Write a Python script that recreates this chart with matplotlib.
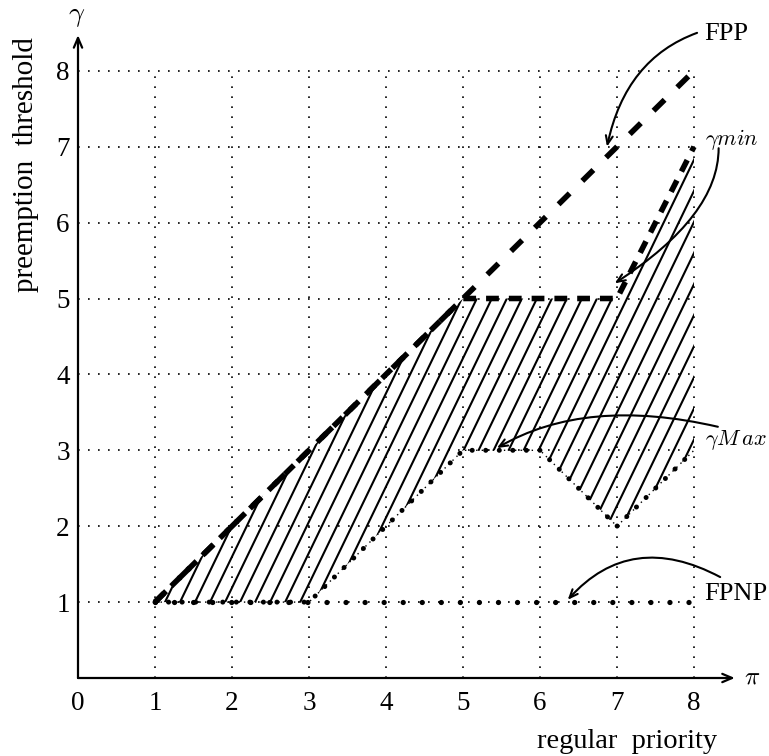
import numpy as np
import matplotlib
matplotlib.use("Agg")
import matplotlib.pyplot as plt
from matplotlib.patches import Polygon

plt.rcParams['font.family'] = ['Liberation Serif', 'DejaVu Serif']
plt.rcParams['mathtext.fontset'] = 'cm'

# curves (regular priority pi -> preemption threshold gamma)
pi_fpp = [1, 8]
gamma_fpp = [1, 8]
pi_min = [1, 5, 7, 8]
gamma_min = [1, 5, 5, 7]
pi_max = [1, 3, 5, 6, 7, 8]
gamma_max = [1, 1, 3, 3, 2, 3]
pi_fpnp = [1, 8]
gamma_fpnp = [1, 1]

x_ticks = [0, 1, 2, 3, 4, 5, 6, 7, 8]
y_ticks = [1, 2, 3, 4, 5, 6, 7, 8]

fig = plt.figure(figsize=(7.69, 7.56), dpi=100)
ax = fig.add_axes([78 / 769, 78 / 756, 8.9 * 77 / 769, 8.9 * 75.9 / 756])
ax.set_xlim(0, 8.9)
ax.set_ylim(0, 8.9)
for s in ax.spines.values():
    s.set_visible(False)
ax.set_xticks(x_ticks)
ax.set_yticks(y_ticks)
ax.tick_params(length=0, labelsize=19.5)
ax.tick_params(axis='x', pad=9)
ax.tick_params(axis='y', pad=6)

# dotted grid
ax.vlines(x_ticks[1:], 0, 8, colors='black', lw=1.2, linestyles=(0, (1, 5)))
ax.hlines(y_ticks, 0, 8, colors='black', lw=1.2, linestyles=(0, (1, 5)))

# axes with arrows
arr = dict(arrowstyle='->,head_length=0.7,head_width=0.3', lw=1.6, color='black',
           shrinkA=0, shrinkB=0)
ax.annotate('', xy=(8.53, 0), xytext=(0, 0), arrowprops=arr, annotation_clip=False)
ax.annotate('', xy=(0, 8.47), xytext=(0, 0), arrowprops=arr, annotation_clip=False)

# hatched region between gamma_max and gamma_min
verts = list(zip(pi_max, gamma_max)) + list(zip(pi_min, gamma_min))[::-1]
region = Polygon(verts, closed=True, facecolor='none', edgecolor='none')
ax.add_patch(region)
slope = 2.1
step = 0.195
for xa in np.arange(1.13 - 8 * step * 5, 8.2, step):
    # line through (xa, 1) with the hatch slope
    ys = np.array([0.0, 9.0])
    xs = xa + (ys - 1) / slope
    ln, = ax.plot(xs, ys, color='black', lw=1.5)
    ln.set_clip_path(region)

# curves
ax.plot(pi_fpnp, gamma_fpnp, color='black', lw=3.8, linestyle=(0, (0.01, 3.6)),
        dash_capstyle='round')
ax.plot(pi_max, gamma_max, color='black', lw=1, linestyle=(0, (1, 3)))
ax.plot(pi_max, gamma_max, color='black', lw=3.6, linestyle=(0, (0.01, 2.7)),
        dash_capstyle='round')
ax.plot(pi_min, gamma_min, color='black', lw=4, linestyle=(0, (2.3, 1.8)))
ax.plot(pi_fpp, gamma_fpp, color='black', lw=4, linestyle=(0, (2.8, 3.2)))

# labels
ax.text(-0.02, 8.72, r'$\gamma$', fontsize=20, ha='center', va='center')
ax.text(8.75, 0.0, r'$\pi$', fontsize=18, ha='center', va='center')
ax.text(7.13, -0.84, 'regular  priority', fontsize=20.5, ha='center', va='center')
ax.text(-0.68, 6.76, 'preemption  threshold', fontsize=21, ha='center', va='center',
        rotation=90)

# annotations
ann = dict(arrowstyle='->,head_length=0.6,head_width=0.25', lw=1.5, color='black',
           shrinkA=0, shrinkB=0)
ax.annotate('', xy=(6.87, 7.0), xytext=(8.04, 8.50),
            arrowprops=dict(ann, connectionstyle='angle3,angleA=20,angleB=78'),
            annotation_clip=False)
ax.text(8.13, 8.48, 'FPP', fontsize=19, ha='left', va='center')

ax.annotate('', xy=(6.97, 5.20), xytext=(8.32, 6.98),
            arrowprops=dict(ann, connectionstyle='angle3,angleA=90,angleB=33'),
            annotation_clip=False)
ax.text(8.14, 7.09, r'$\gamma min$', fontsize=16, ha='left', va='center')

ax.annotate('', xy=(5.44, 3.03), xytext=(8.31, 3.31),
            arrowprops=dict(ann, connectionstyle='angle3,angleA=-13,angleB=30'),
            annotation_clip=False)
ax.text(8.14, 3.14, r'$\gamma M\,ax$', fontsize=16, ha='left', va='center')

ax.annotate('', xy=(6.36, 1.03), xytext=(8.34, 1.33),
            arrowprops=dict(ann, connectionstyle='angle3,angleA=-28,angleB=48'),
            annotation_clip=False)
ax.text(8.13, 1.11, 'FPNP', fontsize=19, ha='left', va='center')

fig.savefig('out.png', dpi=100)
